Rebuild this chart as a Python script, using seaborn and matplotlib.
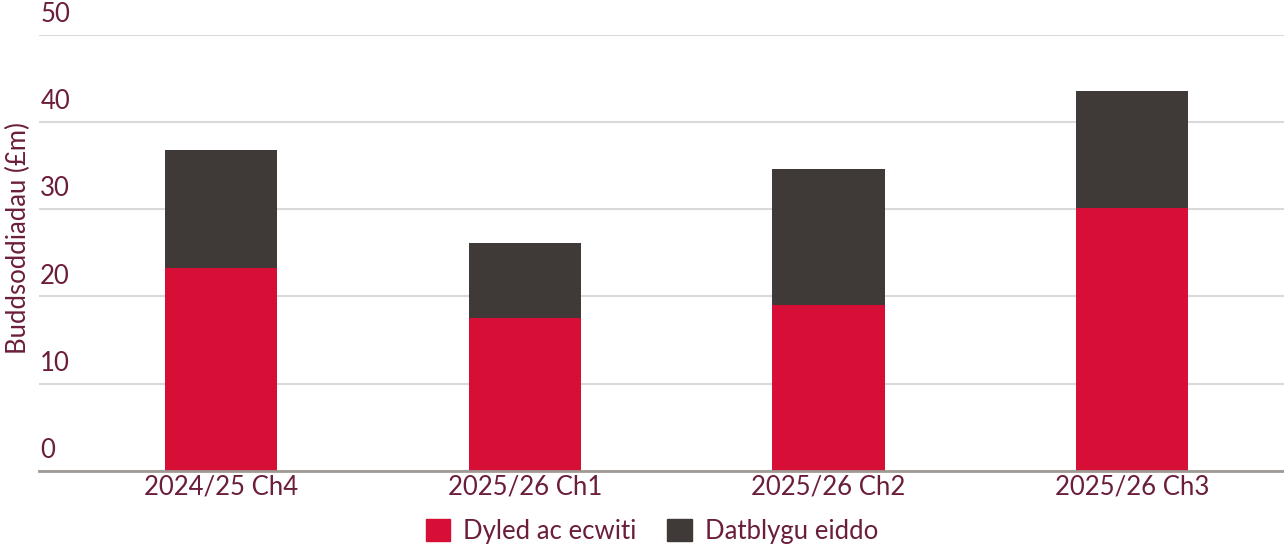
import pandas as pd
import matplotlib
matplotlib.use("Agg")
import matplotlib.pyplot as plt
import seaborn as sns
from matplotlib.patches import Patch
import matplotlib.transforms as mtransforms

# datos
periodos = ["2024/25 Ch4", "2025/26 Ch1", "2025/26 Ch2", "2025/26 Ch3"]
dyled = [23.3, 17.5, 19.0, 30.2]
datblygu = [13.5, 8.6, 15.6, 13.4]
yticks = [0, 10, 20, 30, 40, 50]

ROJO = "#D70E36"
OSCURO = "#3F3A37"
TEXTO = "#6B1D3C"

df = pd.DataFrame({"periodo": periodos, "dyled": dyled, "datblygu": datblygu})
df["total"] = df["dyled"] + df["datblygu"]

sns.set_theme(style="white")
plt.rcParams["font.family"] = ["Lato", "DejaVu Sans"]

fig = plt.figure(figsize=(12.84, 5.46), dpi=100)
ax = fig.add_axes([39 / 1284, 75.3 / 546, 1 - 39 / 1284, (470.7 - 35) / 546])

sns.barplot(data=df, x="periodo", y="total", color=OSCURO, width=0.37,
            saturation=1, linewidth=0, ax=ax, zorder=3)
sns.barplot(data=df, x="periodo", y="dyled", color=ROJO, width=0.37,
            saturation=1, linewidth=0, ax=ax, zorder=4)

ax.set_ylim(0, 50)
ax.set_xlim(-0.60, 3.5)
ax.set_yticks(yticks)
ax.set_yticklabels([])
ax.tick_params(axis="y", length=0)
ax.grid(axis="y", color="#D9D9D9", linewidth=1.5, zorder=0)
ax.set_axisbelow(True)

# etiquetas del eje y sobre la grilla
trans = mtransforms.blended_transform_factory(ax.transAxes, ax.transData)
for v in yticks:
    ax.text(0.001, v + 0.9, str(v), transform=trans, ha="left", va="bottom",
            fontsize=18.5, color=TEXTO)

ax.tick_params(axis="x", length=0, pad=3, labelsize=18.5, labelcolor=TEXTO)
ax.set_xlabel("")
ax.set_ylabel("")
fig.text(18 / 1284, 1 - 238 / 546, "Buddsoddiadau (£m)", rotation=90,
         ha="center", va="center", fontsize=18.5, color=TEXTO)

for s in ["top", "right", "left"]:
    ax.spines[s].set_visible(False)
ax.spines["bottom"].set_color("#A09A96")
ax.spines["bottom"].set_linewidth(2)
ax.spines["bottom"].set_zorder(5)

handles = [Patch(color=ROJO, label="Dyled ac ecwiti"),
           Patch(color=OSCURO, label="Datblygu eiddo")]
leg = fig.legend(handles=handles, loc="center", bbox_to_anchor=(652 / 1284, 1 - 531 / 546),
                 ncol=2, frameon=False, fontsize=18.5, handlelength=0.95, handleheight=0.95,
                 handletextpad=0.5, columnspacing=1.2)
for t in leg.get_texts():
    t.set_color(TEXTO)

fig.savefig("out.png", dpi=100)
